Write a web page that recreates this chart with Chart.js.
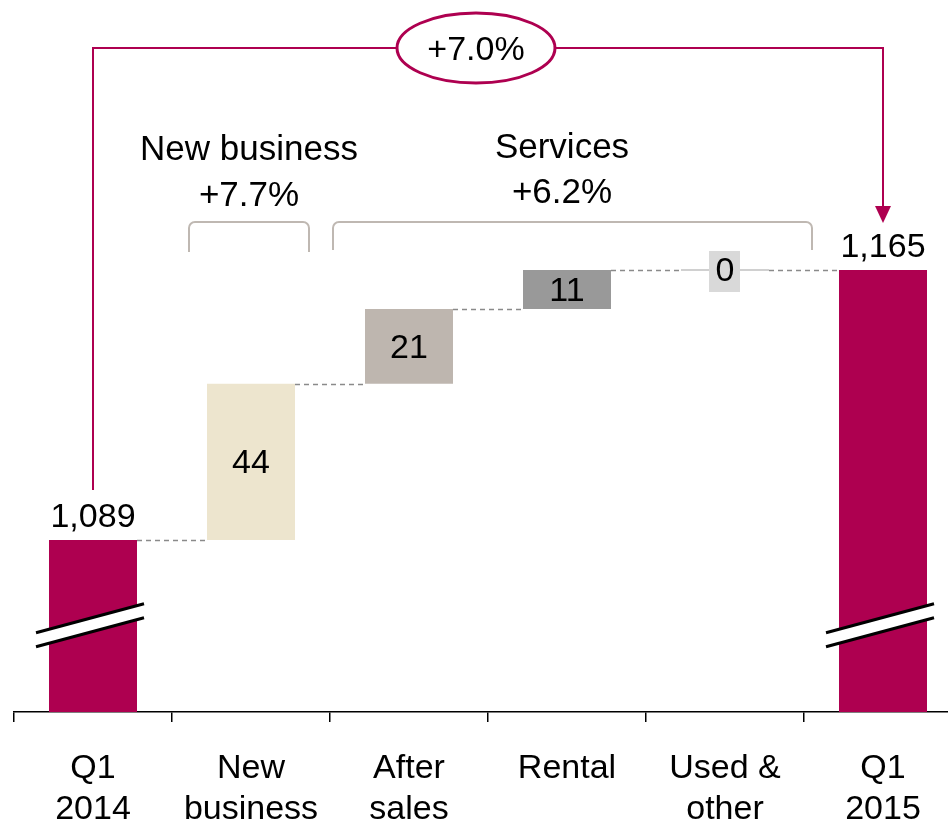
<!DOCTYPE html>
<html><head><meta charset="utf-8">
<script src="https://cdn.jsdelivr.net/npm/chart.js@4/dist/chart.umd.min.js"></script>
<style>
html,body{margin:0;padding:0;overflow:hidden;background:#fff;}
#wrap{position:relative;width:962px;height:824px;}
canvas{display:block;}
</style></head><body>
<div id="wrap"><canvas id="c" width="962" height="824"></canvas></div>
<script>
// ---- data ----
const categories = [['Q1','2014'],['New','business'],['After','sales'],['Rental'],['Used &','other'],['Q1','2015']];
const totals = [1089, null, null, null, null, 1165];
const deltas = [null, 44, 21, 11, 0, null];
const totalLabels = ['1,089', '', '', '', '', '1,165'];
const deltaLabels = ['', '44', '21', '11', '0', ''];
const groupNames = ['New business', 'Services'];
const groupChanges = ['+7.7%', '+6.2%'];
const overallChange = '+7.0%';
const axisMin = 1040.6;   // broken axis start
const axisMax = 1241;
const breakValue = 1065;

const colors = ['#AE0050','#EDE5CE','#BEB6AF','#999999','#D9D9D9','#AE0050'];
const FONT = '"Liberation Sans", Arial, Helvetica, sans-serif';

// floating ranges built from the data
const ranges = [];
let running = 0;
for (let i = 0; i < categories.length; i++) {
  if (totals[i] !== null) { ranges.push([axisMin, totals[i]]); running = totals[i]; }
  else { ranges.push([running, running + deltas[i]]); running += deltas[i]; }
}

const deco = {
  id: 'deco',
  afterDatasetsDraw(chart) {
    const {ctx, scales: {x, y}} = chart;
    const bars = chart.getDatasetMeta(0).data;
    const n = bars.length;
    const L = b => b.x - b.width / 2, R = b => b.x + b.width / 2;
    ctx.save();

    // connectors
    ctx.strokeStyle = '#8a8a8a'; ctx.lineWidth = 1.5; ctx.setLineDash([5, 4]);
    for (let i = 0; i < n - 1; i++) {
      const yy = Math.round(y.getPixelForValue(ranges[i][1])) + 0.5;
      ctx.beginPath(); ctx.moveTo(R(bars[i]), yy); ctx.lineTo(L(bars[i + 1]), yy); ctx.stroke();
    }
    ctx.setLineDash([]);

    // zero-height bars
    for (let i = 0; i < n; i++) {
      if (deltas[i] === 0) {
        const yy = y.getPixelForValue(ranges[i][1]);
        ctx.strokeStyle = '#d0d0d0'; ctx.lineWidth = 2;
        ctx.beginPath(); ctx.moveTo(L(bars[i]), yy); ctx.lineTo(R(bars[i]), yy); ctx.stroke();
      }
    }

    ctx.font = '34px ' + FONT;
    ctx.textAlign = 'center';
    ctx.fillStyle = '#000';

    // delta labels
    for (let i = 0; i < n; i++) {
      if (deltas[i] === null) continue;
      const y0 = y.getPixelForValue(ranges[i][0]), y1 = y.getPixelForValue(ranges[i][1]);
      const cy = (y0 + y1) / 2;
      if (deltas[i] === 0) {
        ctx.fillStyle = '#D9D9D9';
        ctx.fillRect(bars[i].x - 16, cy - 19, 31, 41);
        ctx.fillStyle = '#000';
      }
      ctx.textBaseline = 'middle';
      ctx.fillText(deltaLabels[i], bars[i].x, cy + 2);
    }

    // total labels
    ctx.textBaseline = 'alphabetic';
    for (let i = 0; i < n; i++) {
      if (totals[i] === null) continue;
      ctx.fillText(totalLabels[i], bars[i].x, y.getPixelForValue(totals[i]) - 13);
    }

    // axis breaks
    for (let i = 0; i < n; i++) {
      if (totals[i] === null) continue;
      const mid = y.getPixelForValue(breakValue);
      const xl = bars[i].x - 57, xr = bars[i].x + 51;
      const yl = mid + 14.5, yr = mid - 14.5, g = 7;
      ctx.fillStyle = '#fff';
      ctx.beginPath();
      ctx.moveTo(xl, yl - g); ctx.lineTo(xr, yr - g); ctx.lineTo(xr, yr + g); ctx.lineTo(xl, yl + g);
      ctx.closePath(); ctx.fill();
      ctx.strokeStyle = '#000'; ctx.lineWidth = 3;
      ctx.beginPath(); ctx.moveTo(xl, yl - g); ctx.lineTo(xr, yr - g); ctx.stroke();
      ctx.beginPath(); ctx.moveTo(xl, yl + g); ctx.lineTo(xr, yr + g); ctx.stroke();
    }

    // group braces
    const braceTop = 222, braceBot = 252, r = 6;
    const brace = (x1, x2, bot) => {
      ctx.beginPath();
      ctx.moveTo(x1, bot);
      ctx.lineTo(x1, braceTop + r);
      ctx.arcTo(x1, braceTop, x1 + r, braceTop, r);
      ctx.lineTo(x2 - r, braceTop);
      ctx.arcTo(x2, braceTop, x2, braceTop + r, r);
      ctx.lineTo(x2, bot);
      ctx.stroke();
    };
    ctx.strokeStyle = '#BFB8B2'; ctx.lineWidth = 2;
    brace(bars[1].x - 62, bars[1].x + 58, braceBot);
    brace(bars[2].x - 76, bars[4].x + 87, braceBot - 2);

    ctx.fillStyle = '#000';
    ctx.textBaseline = 'alphabetic';
    ctx.font = '35px ' + FONT;
    const g1 = bars[1].x - 2, g2 = (bars[2].x + bars[4].x) / 2 - 5;
    ctx.fillText(groupNames[0], g1, 160);
    ctx.fillText(groupChanges[0], g1, 206);
    ctx.fillText(groupNames[1], g2, 158);
    ctx.fillText(groupChanges[1], g2, 203);

    // overall bracket with arrow
    const topY = 48;
    const xa = bars[0].x, xb = bars[n - 1].x;
    const yStart = y.getPixelForValue(totals[0]) - 50;
    const yTip = y.getPixelForValue(totals[n - 1]) - 47;
    ctx.strokeStyle = '#AE0050'; ctx.fillStyle = '#AE0050'; ctx.lineWidth = 2;
    ctx.beginPath();
    ctx.moveTo(xa, yStart); ctx.lineTo(xa, topY); ctx.lineTo(xb, topY); ctx.lineTo(xb, yTip - 16);
    ctx.stroke();
    ctx.beginPath();
    ctx.moveTo(xb - 8, yTip - 17); ctx.lineTo(xb + 8, yTip - 17); ctx.lineTo(xb, yTip); ctx.closePath(); ctx.fill();

    // ellipse
    const ex = 476;
    ctx.beginPath(); ctx.ellipse(ex, topY, 79, 35, 0, 0, Math.PI * 2);
    ctx.fillStyle = '#fff'; ctx.fill();
    ctx.lineWidth = 3; ctx.strokeStyle = '#AE0050'; ctx.stroke();
    ctx.font = '34px ' + FONT;
    ctx.fillStyle = '#000'; ctx.textBaseline = 'alphabetic';
    ctx.fillText(overallChange, ex, topY + 12);

    ctx.restore();
  }
};

new Chart(document.getElementById('c'), {
  type: 'bar',
  data: {
    labels: categories,
    datasets: [{
      data: ranges,
      backgroundColor: colors,
      borderWidth: 0,
      categoryPercentage: 1,
      barPercentage: 0.557
    }]
  },
  options: {
    responsive: false,
    animation: false,
    devicePixelRatio: 1,
    layout: {padding: {left: 14, right: 0, top: 0, bottom: 0}},
    plugins: {legend: {display: false}, tooltip: {enabled: false}},
    scales: {
      x: {
        grid: {offset: true, drawOnChartArea: false, drawTicks: true, tickLength: 10, color: '#000', lineWidth: 1.5},
        border: {color: '#000', width: 1.5},
        ticks: {color: '#000', font: {family: FONT, size: 34, lineHeight: 41 / 34}, padding: 26, maxRotation: 0, autoSkip: false},
        afterFit(s) { s.height = 112; }
      },
      y: {display: false, min: axisMin, max: axisMax}
    }
  },
  plugins: [deco]
});
</script>
</body></html>
